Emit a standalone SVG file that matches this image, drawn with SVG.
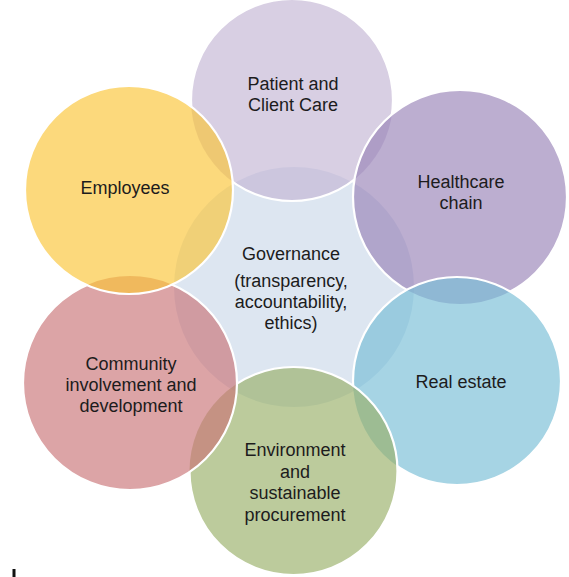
<svg xmlns="http://www.w3.org/2000/svg" width="569" height="577" viewBox="0 0 569 577">
<style>
.f{fill-opacity:0.65;stroke:none}
.e{fill:none;stroke:#ffffff;stroke-width:2.2}
text{font-family:"Liberation Sans",Arial,Helvetica,sans-serif;font-size:18px;fill:#1c1c1c;text-anchor:middle}
</style>
<defs>
<mask id="m1" maskUnits="userSpaceOnUse" x="0" y="0" width="569" height="577"><rect width="569" height="577" fill="#fff"/><circle cx="460" cy="197" r="107"/><circle cx="457" cy="381" r="104"/><circle cx="293.5" cy="471" r="104"/><circle cx="130" cy="383" r="107"/><circle cx="129" cy="190" r="104"/></mask>
<mask id="m2" maskUnits="userSpaceOnUse" x="0" y="0" width="569" height="577"><rect width="569" height="577" fill="#fff"/><circle cx="457" cy="381" r="104"/><circle cx="293.5" cy="471" r="104"/><circle cx="130" cy="383" r="107"/><circle cx="129" cy="190" r="104"/></mask>
<mask id="m3" maskUnits="userSpaceOnUse" x="0" y="0" width="569" height="577"><rect width="569" height="577" fill="#fff"/><circle cx="293.5" cy="471" r="104"/><circle cx="130" cy="383" r="107"/><circle cx="129" cy="190" r="104"/></mask>
<mask id="m4" maskUnits="userSpaceOnUse" x="0" y="0" width="569" height="577"><rect width="569" height="577" fill="#fff"/><circle cx="130" cy="383" r="107"/><circle cx="129" cy="190" r="104"/></mask>
<mask id="m5" maskUnits="userSpaceOnUse" x="0" y="0" width="569" height="577"><rect width="569" height="577" fill="#fff"/><circle cx="129" cy="190" r="104"/></mask>
</defs>
<rect width="569" height="577" fill="#ffffff"/>
<g id="governance">
<circle cx="294" cy="287" r="120" fill="#dde6f1"/>
<text x="291" y="259.5">Governance</text>
<text x="291" y="286.5">(transparency,</text>
<text x="291" y="307.5">accountability,</text>
<text x="291" y="328.5">ethics)</text>
</g>
<g id="patient-care">
<circle class="f" cx="292" cy="100" r="101" fill="#c3b5d4"/>
<circle class="e" cx="292" cy="100" r="101" mask="url(#m1)"/>
<text x="293" y="89.5">Patient and</text>
<text x="293" y="110.5">Client Care</text>
</g>
<g id="healthcare-chain">
<circle class="f" cx="460" cy="197" r="107" fill="#9882b7"/>
<circle class="e" cx="460" cy="197" r="107" mask="url(#m2)"/>
<text x="461" y="188">Healthcare</text>
<text x="461" y="209">chain</text>
</g>
<g id="real-estate">
<circle class="f" cx="457" cy="381" r="104" fill="#76bdd5"/>
<circle class="e" cx="457" cy="381" r="104" mask="url(#m3)"/>
<text x="461" y="387.5">Real estate</text>
</g>
<g id="environment">
<circle class="f" cx="293.5" cy="471" r="104" fill="#98af67"/>
<circle class="e" cx="293.5" cy="471" r="104" mask="url(#m4)"/>
<text x="295" y="456">Environment</text>
<text x="295" y="477.5">and</text>
<text x="295" y="499">sustainable</text>
<text x="295" y="520.5">procurement</text>
</g>
<g id="community">
<circle class="f" cx="130" cy="383" r="107" fill="#c97376"/>
<circle class="e" cx="130" cy="383" r="107" mask="url(#m5)"/>
<text x="131" y="369.5">Community</text>
<text x="131" y="391">involvement and</text>
<text x="131" y="412">development</text>
</g>
<g id="employees">
<circle class="f" cx="129" cy="190" r="104" fill="#fac535"/>
<circle class="e" cx="129" cy="190" r="104"/>
<text x="125" y="193.5">Employees</text>
</g>
<g id="connectors"/>
<rect x="12.5" y="569" width="3" height="8" fill="#111111"/>
</svg>
